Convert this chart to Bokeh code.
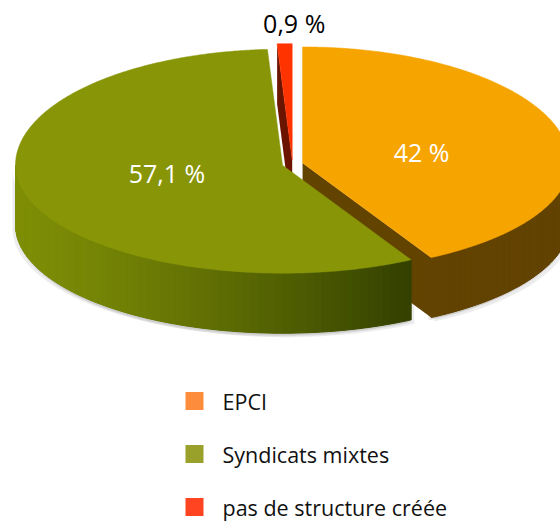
import numpy as np
from bokeh.plotting import figure
from bokeh.models import Range1d, ColumnDataSource
from bokeh.core.properties import value
from bokeh.embed import file_html
from bokeh.resources import INLINE

# ---- data ----
categories = ["EPCI", "Syndicats mixtes", "pas de structure créée"]
values = [42.0, 57.1, 0.9]
labels = ["42 %", "57,1 %", "0,9 %"]

# ---- styles ----
top_colors = ["#F6A400", "#879507", "#FF3300"]
side_colors = ["#634300", "#7E8E06", "#6B1500"]
side_dark = ["#634300", "#334000", "#6B1500"]
legend_colors = ["#FD8D3C", "#9AA12A", "#FF4422"]
label_colors = ["white", "white", "black"]
label_fx = [0.46, 0.45, 0.0]
label_fy = [0.38, 0.25, 0.0]

W, H = 560, 523
CX, CY = 292.0, 163.5
RX = 267.0
RYB, RYF = 116.0, 108.0   # back / front half radii (perspective)
DEPTH = 60.0
EXPLODE = 10.4

p = figure(width=W, height=H, x_range=Range1d(0, W), y_range=Range1d(H, 0),
           x_axis_type=None, y_axis_type=None, toolbar_location=None,
           output_backend="svg", min_border=0)
p.grid.visible = False
p.outline_line_color = None
p.background_fill_color = "white"
p.border_fill_color = "white"


def rim(ox, oy, a_deg):
    a = np.radians(a_deg)
    c = np.cos(a)
    ry = np.where(c > 0, RYB, RYF)
    return ox + RX * np.sin(a), oy - ry * c


def hex_mix(c1, c2, t):
    a = np.array([int(c1[i:i + 2], 16) for i in (1, 3, 5)], float)
    b = np.array([int(c2[i:i + 2], 16) for i in (1, 3, 5)], float)
    c = a + (b - a) * t
    return "#%02x%02x%02x" % tuple(int(round(v)) for v in c)


total = sum(values)
starts = np.cumsum([0] + values[:-1]) / total * 360.0
ends = np.cumsum(values) / total * 360.0

slices = []
for i in range(len(values)):
    a0, a1 = starts[i], ends[i]
    m = (a0 + a1) / 2
    ox = CX + EXPLODE * np.sin(np.radians(m))
    oy = CY - EXPLODE * ((RYB + RYF) / 2 / RX) * np.cos(np.radians(m))
    slices.append(dict(i=i, a0=a0, a1=a1, m=m, ox=ox, oy=oy))

# soft shadow under the walls
for s in slices:
    lo, hi = max(s["a0"], 90), min(s["a1"], 270)
    if lo < hi:
        ang = np.linspace(lo, hi, 80)
        xt, yt = rim(s["ox"], s["oy"], ang)
        for dx, dy, al in [(-3, 3, 0.16), (3, 4, 0.16), (0, 2, 0.18)]:
            xs = list(xt + dx) + list((xt + dx)[::-1])
            ys = list(yt + dy) + list((yt + DEPTH + dy)[::-1])
            p.patch(xs, ys, fill_color="#888888", fill_alpha=al, line_color=None)

order = sorted(slices, key=lambda s: s["oy"])
for s in order:
    i = s["i"]
    ox, oy, a0, a1 = s["ox"], s["oy"], s["a0"], s["a1"]
    # cut faces
    for a, vis in [(a0, np.sin(np.radians(a0)) < -1e-6), (a1, np.sin(np.radians(a1)) > 1e-6)]:
        if vis:
            rx_, ry_ = rim(ox, oy, a)
            p.patch([ox, rx_, rx_, ox], [oy, ry_, ry_ + DEPTH, oy + DEPTH],
                    fill_color=side_dark[i], line_color=None)
    # outer wall
    lo, hi = max(a0, 90), min(a1, 270)
    if lo < hi:
        n = 70
        ang = np.linspace(lo, hi, n + 1)
        xt, yt = rim(ox, oy, ang)
        base_x = list(xt) + list(xt[::-1])
        base_y = list(yt) + list((yt + DEPTH)[::-1])
        mid = hex_mix(side_colors[i], side_dark[i], 0.5)
        p.patch(base_x, base_y, fill_color=mid, line_color=None)
        xmin, xmax = xt.min(), xt.max()
        for k in range(n):
            xs = [xt[k], xt[k + 1], xt[k + 1], xt[k]]
            ys = [yt[k], yt[k + 1], yt[k + 1] + DEPTH, yt[k] + DEPTH]
            t = ((xt[k] + xt[k + 1]) / 2 - xmin) / max(xmax - xmin, 1)
            col = hex_mix(side_colors[i], side_dark[i], t ** 1.3)
            p.patch(xs, ys, fill_color=col, line_color=col, line_width=1.0)
    # top face
    ang = np.linspace(a0, a1, max(int((a1 - a0) * 2), 4))
    xt, yt = rim(ox, oy, ang)
    p.patch([ox] + list(xt), [oy] + list(yt), fill_color=top_colors[i],
            line_color=top_colors[i], line_width=0.5)

# labels
lx, ly = [], []
for s in slices:
    i = s["i"]
    if values[i] < 5:
        lx.append(s["ox"] + 2)
        ly.append(22)
    else:
        rxm, rym = rim(s["ox"], s["oy"], s["m"])
        lx.append(s["ox"] + label_fx[i] * (rxm - s["ox"]))
        ly.append(s["oy"] + label_fy[i] * (rym - s["oy"]))
src = ColumnDataSource(dict(x=lx, y=ly, t=labels, c=label_colors))
p.text(x="x", y="y", text="t", text_color="c", source=src,
       text_font=value("Open Sans"), text_font_size="25px",
       text_align="center", text_baseline="middle")

# legend
leg_y = [400.5 + k * 53.0 for k in range(len(categories))]
p.scatter(x=[194] * len(categories), y=leg_y, marker="square", size=18,
          fill_color=legend_colors, line_color=None)
p.text(x=[222] * len(categories), y=leg_y, text=categories, text_color="#111111",
       text_font=value("Open Sans"), text_font_size="21.5px",
       text_align="left", text_baseline="middle")

open("out.html", "w").write(file_html(p, INLINE))
